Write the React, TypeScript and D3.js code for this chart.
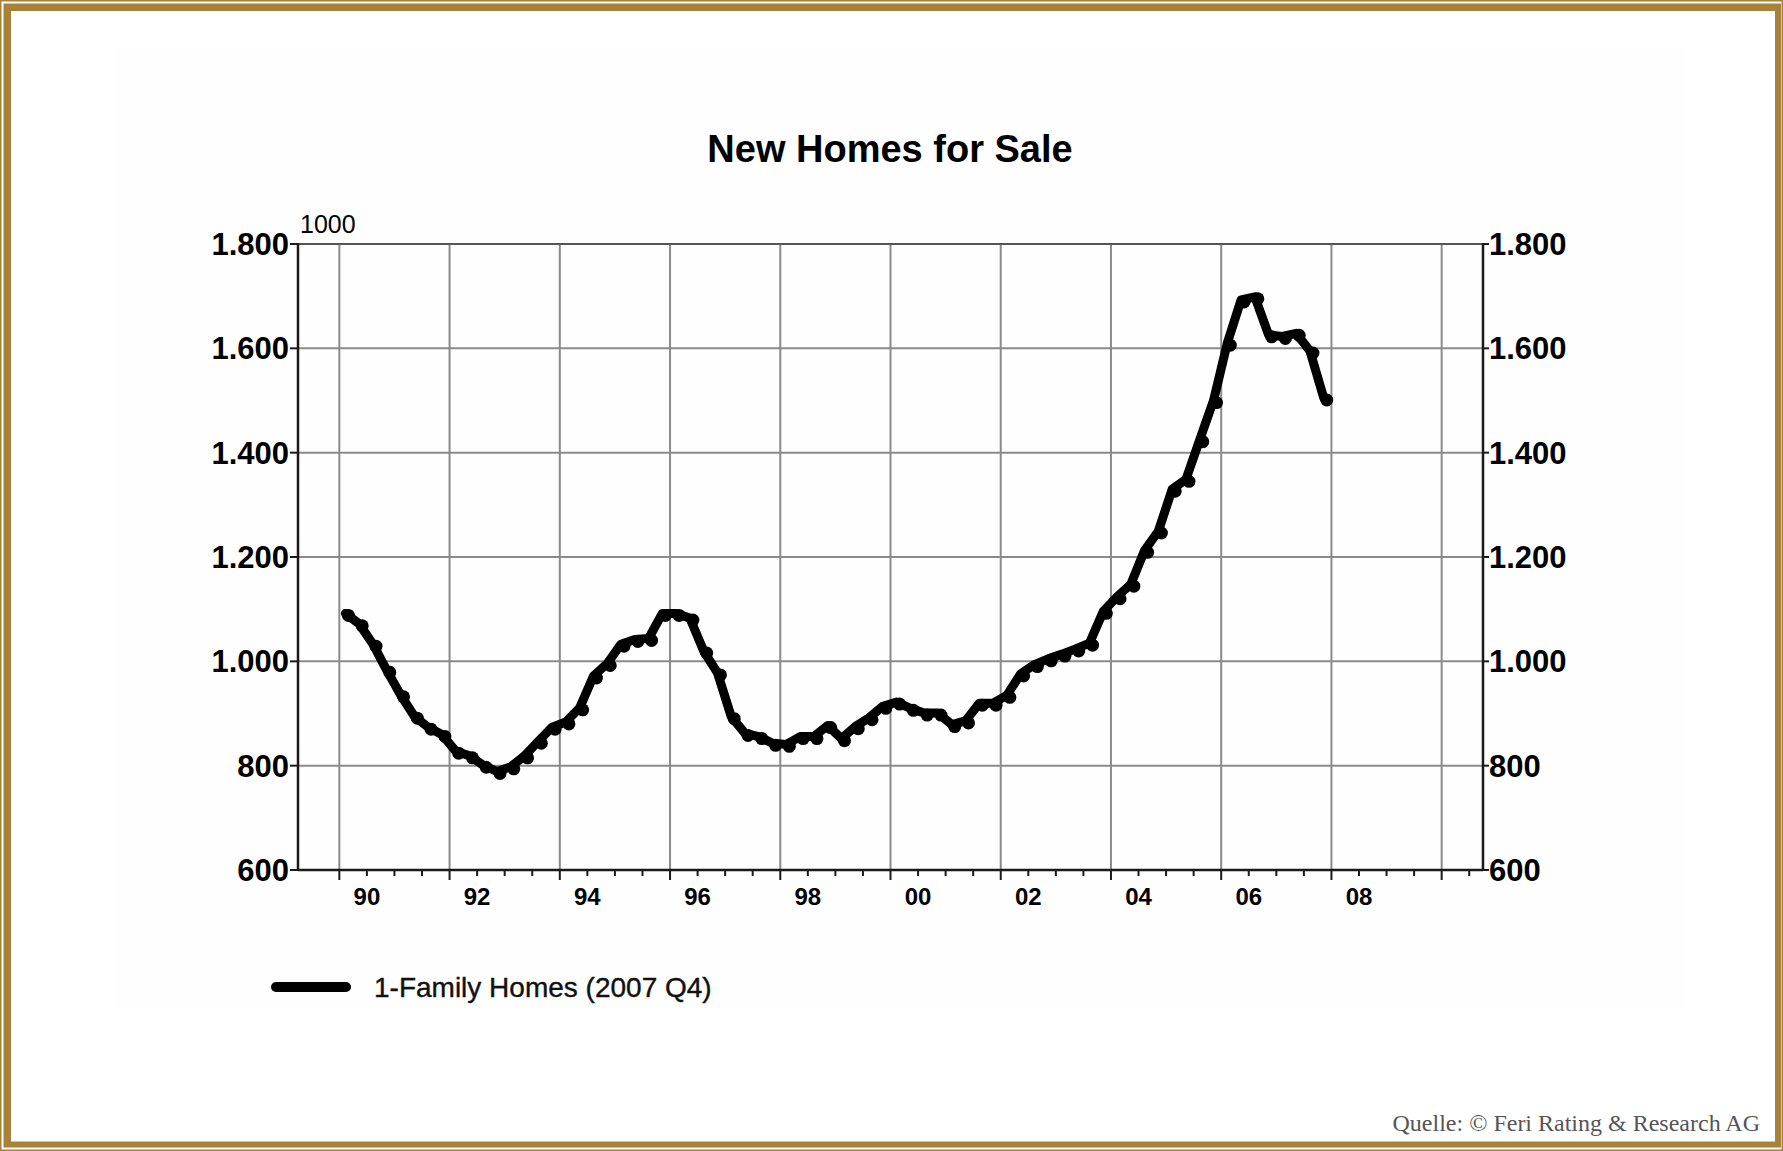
import React, { useEffect } from 'react';
import * as d3 from 'd3';

const TITLE = 'New Homes for Sale';
const UNIT_LABEL = '1000';
const SERIES_NAME = '1-Family Homes (2007 Q4)';
const SOURCE = 'Quelle: © Feri Rating & Research AG';

// Quarterly data, 1990 Q1 .. 2007 Q4 (thousands)
const START_YEAR = 1990;
const homesForSale = [
  1088, 1068, 1029, 979,
  932, 891, 870, 856,
  824, 815, 797, 785,
  794, 815, 843, 870,
  880, 907, 968, 992,
  1029, 1038, 1040, 1088,
  1088, 1079, 1016, 974,
  890, 858, 852, 839,
  837, 852, 852, 873,
  848, 871, 888, 910,
  918, 906, 897, 897,
  875, 882, 916, 916,
  931, 972, 990, 1001,
  1010, 1020, 1031, 1092,
  1120, 1144, 1209, 1246,
  1326, 1345, 1421, 1496,
  1606, 1689, 1695, 1622,
  1619, 1625, 1591, 1501,
];

const yTicks = [600, 800, 1000, 1200, 1400, 1600, 1800];
const xGridYears = [1990, 1992, 1994, 1996, 1998, 2000, 2002, 2004, 2006, 2008, 2010];
const xLabelYears = [1990, 1992, 1994, 1996, 1998, 2000, 2002, 2004, 2006, 2008];
const xLabels = ['90', '92', '94', '96', '98', '00', '02', '04', '06', '08'];

const W = 1783;
const H = 1151;
const GOLD = '#a9823a';
const SANS = '"Liberation Sans", Arial, sans-serif';
const SERIF = '"Liberation Serif", "Times New Roman", serif';

const de = d3.formatLocale({ decimal: ',', thousands: '.', grouping: [3], currency: ['', '€'] });
const fmt = de.format(',');

export default function App() {
  useEffect(() => {
    document.body.style.margin = '0';
  }, []);

  const x = d3.scaleLinear().domain([1989.25, 2010.75]).range([298, 1483]);
  const y = d3.scaleLinear().domain([600, 1800]).range([870, 244]);

  const points = homesForSale.map((v, i) => ({
    t: START_YEAR + Math.floor(i / 4) + (i % 4) * 0.25 + 0.165,
    v,
  }));

  const line = d3
    .line<{ t: number; v: number }>()
    .x((d) => x(d.t))
    .y((d) => y(d.v));

  const [x0, x1] = x.range();
  const [yb, yt] = y.range();

  const minorTicks = d3.range(1990, 2010.51, 0.5);

  return (
    <svg width={W} height={H} style={{ position: 'absolute', left: 0, top: 0, display: 'block' }}>
      <rect x={0} y={0} width={W} height={H} fill="#ffffff" />
      {/* frame */}
      <rect x={0.75} y={0.75} width={W - 1.5} height={H - 1.5} fill="none" stroke={GOLD} strokeWidth={1.5} />
      <path
        d={`M3.5,3.5 H1781 V1147.5 H3.5 Z M11,11 V1141.5 H1775 V11 Z`}
        fill={GOLD}
        fillRule="evenodd"
      />
      {/* chart image area */}
      <rect x={113} y={47} width={1573} height={961} fill="#fefefe" />

      {/* title */}
      <text x={890} y={162} textAnchor="middle" fontFamily={SANS} fontWeight="bold" fontSize={38} fill="#000">
        {TITLE}
      </text>

      {/* grid */}
      <g stroke="#8a8a8a" strokeWidth={2}>
        {xGridYears.map((yr) => (
          <line key={'gx' + yr} x1={x(yr)} x2={x(yr)} y1={yt} y2={yb} />
        ))}
        {yTicks.slice(1, -1).map((v) => (
          <line key={'gy' + v} x1={x0} x2={x1} y1={y(v)} y2={y(v)} />
        ))}
      </g>
      <line x1={x0} x2={x1} y1={yt} y2={yt} stroke="#555" strokeWidth={2} />

      {/* axes */}
      <g stroke="#1a1a1a" strokeWidth={2.5}>
        <line x1={x0} x2={x0} y1={yt - 1} y2={yb + 1} />
        <line x1={x1} x2={x1} y1={yt - 1} y2={yb + 1} />
        <line x1={x0} x2={x1} y1={yb} y2={yb} />
      </g>
      <g stroke="#1a1a1a" strokeWidth={2}>
        {yTicks.map((v) => (
          <g key={'yt' + v}>
            <line x1={x0 - 8} x2={x0} y1={y(v)} y2={y(v)} />
            <line x1={x1} x2={x1 + 6} y1={y(v)} y2={y(v)} />
          </g>
        ))}
        {minorTicks.map((t) => {
          const major = Math.abs(t % 2) < 1e-9;
          return <line key={'xt' + t} x1={x(t)} x2={x(t)} y1={yb} y2={yb + (major ? 10 : 6)} />;
        })}
      </g>

      {/* y labels */}
      <g fontFamily={SANS} fontWeight="bold" fontSize={31} fill="#000">
        {yTicks.map((v) => (
          <text key={'yl' + v} x={x0 - 9} y={y(v) + 11} textAnchor="end">
            {fmt(v)}
          </text>
        ))}
        {yTicks.map((v) => (
          <text key={'yr' + v} x={x1 + 6} y={y(v) + 11} textAnchor="start">
            {fmt(v)}
          </text>
        ))}
      </g>
      <text x={x0 + 2} y={233} fontFamily={SANS} fontSize={25} fill="#000">
        {UNIT_LABEL}
      </text>

      {/* x labels */}
      <g fontFamily={SANS} fontWeight="bold" fontSize={24} fill="#000">
        {xLabelYears.map((yr, i) => (
          <text key={'xl' + yr} x={x(yr + 0.5)} y={905} textAnchor="middle">
            {xLabels[i]}
          </text>
        ))}
      </g>

      {/* series */}
      <path
        d={line(points) || ''}
        transform="translate(-3,-2)"
        fill="none"
        stroke="#000"
        strokeWidth={9}
        strokeLinejoin="round"
        strokeLinecap="round"
      />
      <g fill="#000">
        {points.map((p, i) => (
          <circle key={'pt' + i} cx={x(p.t)} cy={y(p.v)} r={6.5} />
        ))}
      </g>

      {/* legend */}
      <line x1={276} x2={346} y1={987} y2={987} stroke="#000" strokeWidth={10} strokeLinecap="round" />
      <text x={374} y={997} fontFamily={SANS} fontSize={28} fill="#111" stroke="#111" strokeWidth={0.4}>
        {SERIES_NAME}
      </text>

      {/* source */}
      <text x={1760} y={1131} textAnchor="end" fontFamily={SERIF} fontSize={24} fill="#555">
        {SOURCE}
      </text>
    </svg>
  );
}
